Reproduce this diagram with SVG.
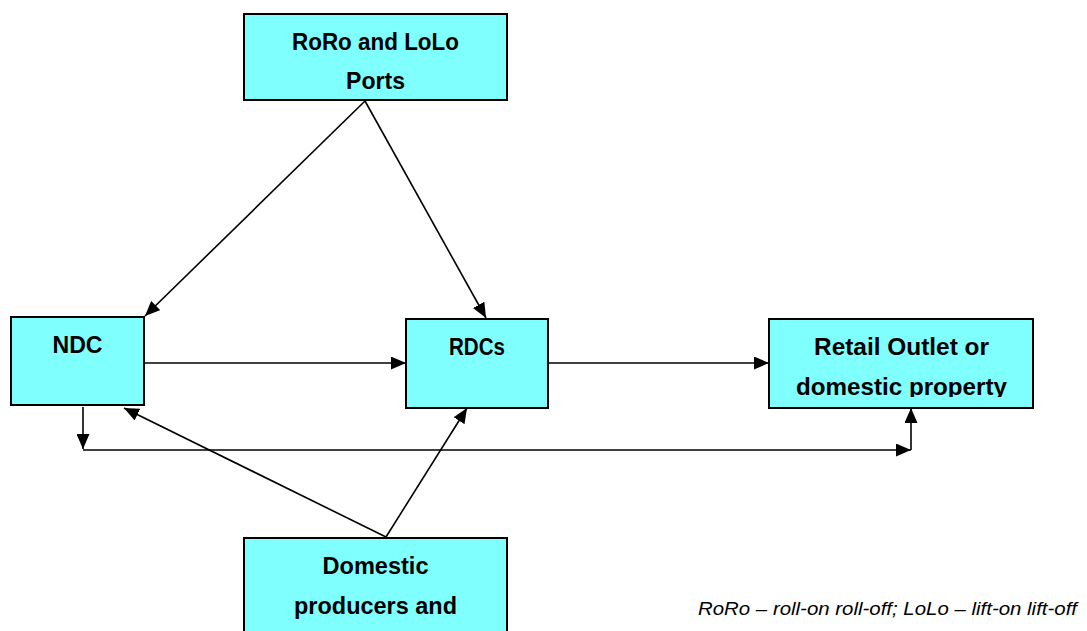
<svg xmlns="http://www.w3.org/2000/svg" width="1087" height="631" viewBox="0 0 1087 631">
<style>
.box{fill:#80FFFF;stroke:#000;stroke-width:2}
.lbl{font-family:"Liberation Sans",Arial,sans-serif;font-weight:bold;font-size:24px;fill:#000;text-anchor:middle}
.note{font-family:"Liberation Sans",Arial,sans-serif;font-style:italic;font-size:18px;fill:#000}
.con{fill:none;stroke:#000;stroke-width:1.6}
</style>
<defs>
<marker id="ah" viewBox="0 0 15 13" refX="15" refY="6.5" markerWidth="15" markerHeight="13" markerUnits="userSpaceOnUse" orient="auto">
<path d="M0,0 L15,6.5 L0,13 z" fill="#000"/>
</marker>
<clipPath id="retailClip"><rect x="769" y="319" width="264" height="78"/></clipPath>
</defs>
<rect width="1087" height="631" fill="#fff"/>
<g id="connectors">
<path class="con" d="M365,101 L145,316" marker-end="url(#ah)"/>
<path class="con" d="M365,101 L486,318" marker-end="url(#ah)"/>
<path class="con" d="M144,363 L406,363" marker-end="url(#ah)"/>
<path class="con" d="M548,363 L769,363" marker-end="url(#ah)"/>
<path class="con" d="M83,407 L83,449" marker-end="url(#ah)"/>
<path class="con" d="M83,450 L911,450" marker-end="url(#ah)"/>
<path class="con" d="M911,450 L911,408" marker-end="url(#ah)"/>
<path class="con" d="M386,537 L124,408" marker-end="url(#ah)"/>
<path class="con" d="M386,537 L467,408" marker-end="url(#ah)"/>
</g>
<g id="ports">
<rect class="box" x="244" y="14" width="263" height="86"/>
<text class="lbl" x="375.5" y="50" textLength="167" lengthAdjust="spacingAndGlyphs">RoRo and LoLo</text>
<text class="lbl" x="375.5" y="89" textLength="59" lengthAdjust="spacingAndGlyphs">Ports</text>
</g>
<g id="ndc">
<rect class="box" x="11" y="317" width="133" height="88"/>
<text class="lbl" x="77.5" y="353" textLength="50" lengthAdjust="spacingAndGlyphs">NDC</text>
</g>
<g id="rdcs">
<rect class="box" x="406" y="319" width="142" height="89"/>
<text class="lbl" x="477" y="355" textLength="56" lengthAdjust="spacingAndGlyphs">RDCs</text>
</g>
<g id="retail">
<rect class="box" x="769" y="319" width="264" height="89"/>
<text class="lbl" x="901.5" y="355" textLength="175" lengthAdjust="spacingAndGlyphs">Retail Outlet or</text>
<text class="lbl" x="901.5" y="395" textLength="211" lengthAdjust="spacingAndGlyphs" clip-path="url(#retailClip)">domestic property</text>
</g>
<g id="domestic">
<rect class="box" x="244" y="538" width="263" height="120"/>
<text class="lbl" x="375.5" y="574" textLength="106" lengthAdjust="spacingAndGlyphs">Domestic</text>
<text class="lbl" x="375.5" y="614" textLength="163" lengthAdjust="spacingAndGlyphs">producers and</text>
</g>
<text class="note" x="698" y="615" textLength="379" lengthAdjust="spacingAndGlyphs">RoRo – roll-on roll-off; LoLo – lift-on lift-off</text>
</svg>
